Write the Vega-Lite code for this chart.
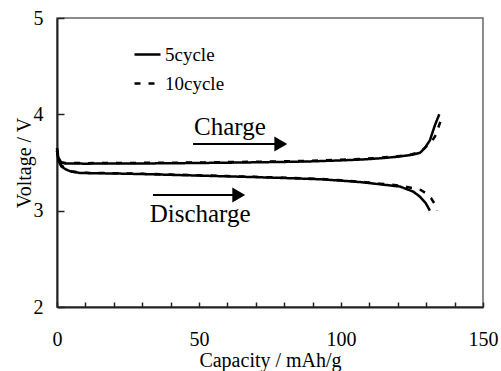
{
  "$schema": "https://vega.github.io/schema/vega-lite/v6.json",
  "width": 426,
  "height": 289,
  "autosize": {"type": "none"},
  "padding": {"left": 57, "top": 18, "right": 18, "bottom": 64},
  "background": "white",
  "config": {
    "font": "Liberation Serif",
    "view": {"stroke": "#666", "strokeWidth": 1.5},
    "axis": {
      "grid": false,
      "domainColor": "#222",
      "domainWidth": 2,
      "tickColor": "#222",
      "tickWidth": 1.5,
      "labelFont": "Liberation Serif",
      "titleFont": "Liberation Serif",
      "labelFontSize": 20,
      "titleFontSize": 20,
      "titleFontWeight": "normal",
      "labelColor": "#000",
      "titleColor": "#000"
    }
  },
  "resolve": {"axis": {"x": "independent", "y": "independent"}},
  "datasets": {
    "curves": [
      {"cycle": "5cycle", "mode": "charge", "cap": 0, "v": 3.62},
      {"cycle": "5cycle", "mode": "charge", "cap": 0.5, "v": 3.55},
      {"cycle": "5cycle", "mode": "charge", "cap": 1.5, "v": 3.5},
      {"cycle": "5cycle", "mode": "charge", "cap": 3, "v": 3.49},
      {"cycle": "5cycle", "mode": "charge", "cap": 10, "v": 3.488},
      {"cycle": "5cycle", "mode": "charge", "cap": 20, "v": 3.49},
      {"cycle": "5cycle", "mode": "charge", "cap": 30, "v": 3.49},
      {"cycle": "5cycle", "mode": "charge", "cap": 40, "v": 3.492},
      {"cycle": "5cycle", "mode": "charge", "cap": 50, "v": 3.495},
      {"cycle": "5cycle", "mode": "charge", "cap": 60, "v": 3.498},
      {"cycle": "5cycle", "mode": "charge", "cap": 70, "v": 3.502},
      {"cycle": "5cycle", "mode": "charge", "cap": 80, "v": 3.506},
      {"cycle": "5cycle", "mode": "charge", "cap": 90, "v": 3.512},
      {"cycle": "5cycle", "mode": "charge", "cap": 100, "v": 3.522},
      {"cycle": "5cycle", "mode": "charge", "cap": 108, "v": 3.532},
      {"cycle": "5cycle", "mode": "charge", "cap": 114, "v": 3.544},
      {"cycle": "5cycle", "mode": "charge", "cap": 120, "v": 3.56},
      {"cycle": "5cycle", "mode": "charge", "cap": 125, "v": 3.58},
      {"cycle": "5cycle", "mode": "charge", "cap": 127.8, "v": 3.6},
      {"cycle": "5cycle", "mode": "charge", "cap": 129.5, "v": 3.65},
      {"cycle": "5cycle", "mode": "charge", "cap": 131.3, "v": 3.73},
      {"cycle": "5cycle", "mode": "charge", "cap": 133.1, "v": 3.89},
      {"cycle": "5cycle", "mode": "charge", "cap": 134.6, "v": 4.0},
      {"cycle": "10cycle", "mode": "charge", "cap": 0, "v": 3.65},
      {"cycle": "10cycle", "mode": "charge", "cap": 0.5, "v": 3.56},
      {"cycle": "10cycle", "mode": "charge", "cap": 1.5, "v": 3.5},
      {"cycle": "10cycle", "mode": "charge", "cap": 3, "v": 3.495},
      {"cycle": "10cycle", "mode": "charge", "cap": 10, "v": 3.493},
      {"cycle": "10cycle", "mode": "charge", "cap": 20, "v": 3.495},
      {"cycle": "10cycle", "mode": "charge", "cap": 30, "v": 3.496},
      {"cycle": "10cycle", "mode": "charge", "cap": 40, "v": 3.498},
      {"cycle": "10cycle", "mode": "charge", "cap": 50, "v": 3.5},
      {"cycle": "10cycle", "mode": "charge", "cap": 60, "v": 3.504},
      {"cycle": "10cycle", "mode": "charge", "cap": 70, "v": 3.508},
      {"cycle": "10cycle", "mode": "charge", "cap": 80, "v": 3.512},
      {"cycle": "10cycle", "mode": "charge", "cap": 90, "v": 3.518},
      {"cycle": "10cycle", "mode": "charge", "cap": 100, "v": 3.528},
      {"cycle": "10cycle", "mode": "charge", "cap": 108, "v": 3.538},
      {"cycle": "10cycle", "mode": "charge", "cap": 114, "v": 3.55},
      {"cycle": "10cycle", "mode": "charge", "cap": 120, "v": 3.565},
      {"cycle": "10cycle", "mode": "charge", "cap": 125, "v": 3.585},
      {"cycle": "10cycle", "mode": "charge", "cap": 128, "v": 3.61},
      {"cycle": "10cycle", "mode": "charge", "cap": 130.2, "v": 3.67},
      {"cycle": "10cycle", "mode": "charge", "cap": 131.7, "v": 3.71},
      {"cycle": "10cycle", "mode": "charge", "cap": 133.1, "v": 3.77},
      {"cycle": "10cycle", "mode": "charge", "cap": 135.2, "v": 3.94},
      {"cycle": "5cycle", "mode": "discharge", "cap": 0, "v": 3.62},
      {"cycle": "5cycle", "mode": "discharge", "cap": 0.5, "v": 3.52},
      {"cycle": "5cycle", "mode": "discharge", "cap": 1.5, "v": 3.46},
      {"cycle": "5cycle", "mode": "discharge", "cap": 3, "v": 3.43},
      {"cycle": "5cycle", "mode": "discharge", "cap": 5, "v": 3.405},
      {"cycle": "5cycle", "mode": "discharge", "cap": 8, "v": 3.392},
      {"cycle": "5cycle", "mode": "discharge", "cap": 12, "v": 3.389},
      {"cycle": "5cycle", "mode": "discharge", "cap": 20, "v": 3.386},
      {"cycle": "5cycle", "mode": "discharge", "cap": 30, "v": 3.38},
      {"cycle": "5cycle", "mode": "discharge", "cap": 40, "v": 3.372},
      {"cycle": "5cycle", "mode": "discharge", "cap": 50, "v": 3.364},
      {"cycle": "5cycle", "mode": "discharge", "cap": 60, "v": 3.356},
      {"cycle": "5cycle", "mode": "discharge", "cap": 70, "v": 3.348},
      {"cycle": "5cycle", "mode": "discharge", "cap": 80, "v": 3.339},
      {"cycle": "5cycle", "mode": "discharge", "cap": 92.6, "v": 3.326},
      {"cycle": "5cycle", "mode": "discharge", "cap": 100, "v": 3.312},
      {"cycle": "5cycle", "mode": "discharge", "cap": 107, "v": 3.296},
      {"cycle": "5cycle", "mode": "discharge", "cap": 113.7, "v": 3.274},
      {"cycle": "5cycle", "mode": "discharge", "cap": 120.8, "v": 3.25},
      {"cycle": "5cycle", "mode": "discharge", "cap": 125.5, "v": 3.197},
      {"cycle": "5cycle", "mode": "discharge", "cap": 127.8, "v": 3.145},
      {"cycle": "5cycle", "mode": "discharge", "cap": 129.8, "v": 3.08},
      {"cycle": "5cycle", "mode": "discharge", "cap": 131.3, "v": 3.0},
      {"cycle": "10cycle", "mode": "discharge", "cap": 0, "v": 3.64},
      {"cycle": "10cycle", "mode": "discharge", "cap": 0.5, "v": 3.54},
      {"cycle": "10cycle", "mode": "discharge", "cap": 1.5, "v": 3.47},
      {"cycle": "10cycle", "mode": "discharge", "cap": 3, "v": 3.44},
      {"cycle": "10cycle", "mode": "discharge", "cap": 5, "v": 3.41},
      {"cycle": "10cycle", "mode": "discharge", "cap": 8, "v": 3.396},
      {"cycle": "10cycle", "mode": "discharge", "cap": 12, "v": 3.392},
      {"cycle": "10cycle", "mode": "discharge", "cap": 20, "v": 3.389},
      {"cycle": "10cycle", "mode": "discharge", "cap": 30, "v": 3.383},
      {"cycle": "10cycle", "mode": "discharge", "cap": 40, "v": 3.375},
      {"cycle": "10cycle", "mode": "discharge", "cap": 50, "v": 3.367},
      {"cycle": "10cycle", "mode": "discharge", "cap": 60, "v": 3.359},
      {"cycle": "10cycle", "mode": "discharge", "cap": 70, "v": 3.351},
      {"cycle": "10cycle", "mode": "discharge", "cap": 80, "v": 3.342},
      {"cycle": "10cycle", "mode": "discharge", "cap": 92.6, "v": 3.329},
      {"cycle": "10cycle", "mode": "discharge", "cap": 100, "v": 3.316},
      {"cycle": "10cycle", "mode": "discharge", "cap": 107, "v": 3.3},
      {"cycle": "10cycle", "mode": "discharge", "cap": 113.7, "v": 3.28},
      {"cycle": "10cycle", "mode": "discharge", "cap": 120.8, "v": 3.26},
      {"cycle": "10cycle", "mode": "discharge", "cap": 125, "v": 3.235},
      {"cycle": "10cycle", "mode": "discharge", "cap": 128.1, "v": 3.214},
      {"cycle": "10cycle", "mode": "discharge", "cap": 130, "v": 3.18},
      {"cycle": "10cycle", "mode": "discharge", "cap": 131.7, "v": 3.13},
      {"cycle": "10cycle", "mode": "discharge", "cap": 133, "v": 3.07},
      {"cycle": "10cycle", "mode": "discharge", "cap": 133.8, "v": 3.0}
    ],
    "notes": [
      {"label": "Charge", "cap": 60.9, "v": 3.785},
      {"label": "Discharge", "cap": 50.4, "v": 2.882}
    ],
    "arrows": [
      {"cap": 47.9, "cap2": 78.8, "v": 3.692},
      {"cap": 33.8, "cap2": 64.0, "v": 3.163}
    ]
  },
  "layer": [
    {
      "layer": [
        {
          "data": {"name": "curves"},
          "mark": {"type": "line", "strokeWidth": 2.5, "color": "black"},
          "encoding": {
            "x": {
              "field": "cap", "type": "quantitative",
              "scale": {"domain": [0, 150], "nice": false},
              "axis": {
                "title": "Capacity / mAh/g",
                "orient": "bottom",
                "values": [0, 50, 100, 150],
                "ticks": false,
                "tickSize": 0,
                "labelPadding": 22,
                "labelFlush": false,
                "labelOverlap": false,
                "titlePadding": 1
              }
            },
            "y": {
              "field": "v", "type": "quantitative",
              "scale": {"domain": [2, 5], "nice": false},
              "axis": {
                "title": "Voltage / V",
                "orient": "left",
                "values": [2, 3, 4, 5],
                "format": "d",
                "ticks": false,
                "tickSize": 0,
                "labelPadding": 14,
                "titlePadding": -1
              }
            },
            "strokeDash": {
              "field": "cycle", "type": "nominal",
              "scale": {"domain": ["5cycle", "10cycle"], "range": [[1, 0], [6, 8]]},
              "legend": {
                "orient": "none",
                "legendX": 76,
                "legendY": 22,
                "title": null,
                "symbolType": "stroke",
                "symbolSize": 676,
                "symbolStrokeWidth": 2.5,
                "symbolStrokeColor": "black",
                "labelFont": "Liberation Serif",
                "labelFontSize": 19,
                "labelColor": "black",
                "labelOffset": 3,
                "padding": 0,
                "rowPadding": 4
              }
            },
            "detail": {"field": "mode", "type": "nominal"}
          }
        },
        {
          "data": {"name": "arrows"},
          "mark": {"type": "rule", "strokeWidth": 2, "color": "black"},
          "encoding": {
            "x": {"field": "cap", "type": "quantitative"},
            "x2": {"field": "cap2"},
            "y": {"field": "v", "type": "quantitative"}
          }
        },
        {
          "data": {"name": "arrows"},
          "mark": {"type": "point", "shape": "triangle-right", "size": 220, "filled": true, "color": "black", "opacity": 1},
          "encoding": {
            "x": {"field": "cap2", "type": "quantitative"},
            "y": {"field": "v", "type": "quantitative"}
          }
        }
      ]
    },
    {
      "data": {"name": "notes"},
      "mark": {"type": "text", "fontSize": 25, "font": "Liberation Serif", "baseline": "alphabetic", "align": "center", "color": "black"},
      "encoding": {
        "x": {
          "field": "cap", "type": "quantitative",
          "axis": {
            "title": "x ticks",
            "titleOpacity": 0,
            "orient": "top",
            "offset": -289,
            "values": [0, 10, 20, 30, 40, 50, 60, 70, 80, 90, 100, 110, 120, 130, 140, 150],
            "labelOpacity": 0,
            "domainOpacity": 0,
            "ticks": true,
            "tickSize": 5
          }
        },
        "y": {
          "field": "v", "type": "quantitative",
          "axis": {
            "title": "y ticks",
            "titleOpacity": 0,
            "orient": "right",
            "offset": -426,
            "values": [2, 3, 4, 5],
            "labelOpacity": 0,
            "domainOpacity": 0,
            "ticks": true,
            "tickSize": 7
          }
        },
        "text": {"field": "label", "type": "nominal"}
      }
    }
  ]
}
